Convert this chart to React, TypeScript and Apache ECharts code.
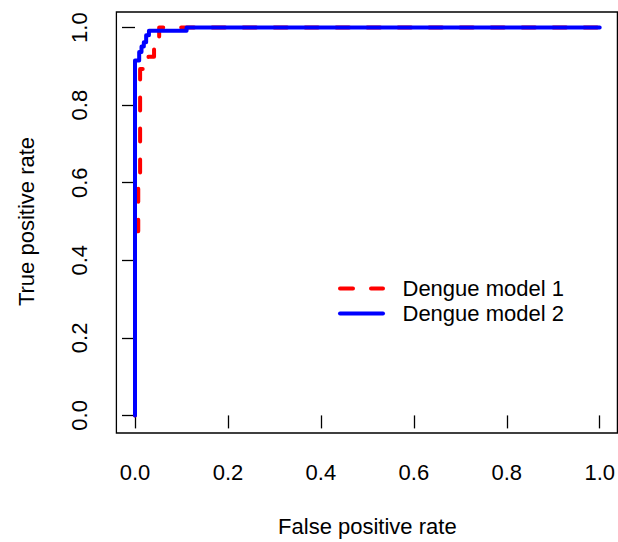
import React, { useEffect, useRef } from "react";
import * as echarts from "echarts";

// ROC curve points (false positive rate, true positive rate)
const fprModel1 = [0, 0, 0.007, 0.007, 0.011, 0.011, 0.029, 0.029, 0.041, 0.041, 0.049, 0.049, 0.052, 0.052, 1.0];
const tprModel1 = [0, 0.475, 0.475, 0.606, 0.606, 0.893, 0.893, 0.925, 0.925, 0.958, 0.958, 0.972, 0.972, 1.0, 1.0];

const fprModel2 = [0, 0, 0.009, 0.009, 0.014, 0.014, 0.019, 0.019, 0.024, 0.024, 0.03, 0.03, 0.111, 0.111, 1.0];
const tprModel2 = [0, 0.915, 0.915, 0.937, 0.937, 0.951, 0.951, 0.962, 0.962, 0.98, 0.98, 0.992, 0.992, 1.0, 1.0];

const seriesNames = ["Dengue model 1", "Dengue model 2"];
const xTitle = "False positive rate";
const yTitle = "True positive rate";

const FONT = "Liberation Sans, Arial, Helvetica, sans-serif";

export default function App() {
  const ref = useRef<HTMLDivElement>(null);
  useEffect(() => {
    if (!ref.current) return;
    const chart = echarts.init(ref.current, null, { renderer: "svg" });
    const d1 = fprModel1.map((x, i) => [x, tprModel1[i]]);
    const d2 = fprModel2.map((x, i) => [x, tprModel2[i]]);
    // plot region: 0..1 maps to 135..600 horizontally, 417.4..27.6 vertically
    const gl = 135, gr = 600, gt = 27.6, gb = 417.4;
    const ux = (gr - gl), uy = (gb - gt);
    const boxL = gl - 0.04 * ux, boxR = gr + 0.04 * ux, boxT = gt - 0.04 * uy, boxB = gb + 0.04 * uy;
    chart.setOption({
      animation: false,
      backgroundColor: "#ffffff",
      textStyle: { fontFamily: FONT },
      grid: { left: gl, top: gt, width: ux, height: uy, containLabel: false },
      xAxis: {
        type: "value",
        min: 0,
        max: 1,
        interval: 0.2,
        offset: boxB - gb,
        axisLine: { show: false },
        splitLine: { show: false },
        axisTick: { show: true, length: 13, lineStyle: { color: "#000", width: 1.3 } },
        axisLabel: {
          fontSize: 22,
          color: "#000",
          fontFamily: FONT,
          margin: 30,
          formatter: (v: number) => v.toFixed(1),
        },
        name: xTitle,
        nameLocation: "middle",
        nameGap: 84,
        nameTextStyle: { fontSize: 22, color: "#000", fontFamily: FONT },
      },
      yAxis: {
        type: "value",
        min: 0,
        max: 1,
        interval: 0.2,
        offset: gl - boxL,
        axisLine: { show: false },
        splitLine: { show: false },
        axisTick: { show: true, length: 13, lineStyle: { color: "#000", width: 1.3 } },
        axisLabel: {
          fontSize: 22,
          color: "#000",
          fontFamily: FONT,
          margin: 26,
          rotate: 90,
          formatter: (v: number) => v.toFixed(1),
        },
        name: yTitle,
        nameLocation: "middle",
        nameGap: 79,
        nameRotate: 90,
        nameTextStyle: { fontSize: 22, color: "#000", fontFamily: FONT },
      },
      series: [
        {
          name: seriesNames[0],
          type: "line",
          data: d1,
          symbol: "none",
          clip: false,
          lineStyle: { color: "#ff0000", width: 4, type: [13, 18], cap: "round", join: "round" },
        },
        {
          name: seriesNames[1],
          type: "line",
          data: d2,
          symbol: "none",
          clip: false,
          lineStyle: { color: "#0000ff", width: 4, cap: "round", join: "round" },
        },
      ],
      graphic: [
        {
          type: "rect",
          shape: { x: boxL, y: boxT, width: Math.min(boxR, 617.4) - boxL, height: boxB - boxT },
          style: { fill: "none", stroke: "#000", lineWidth: 1.3 },
          silent: true,
        },
        {
          type: "line",
          shape: { x1: 340, y1: 288.5, x2: 383, y2: 288.5 },
          style: { stroke: "#ff0000", lineWidth: 4, lineDash: [13, 18], lineCap: "round" },
        },
        {
          type: "line",
          shape: { x1: 340, y1: 313.5, x2: 383, y2: 313.5 },
          style: { stroke: "#0000ff", lineWidth: 4, lineCap: "round" },
        },
        {
          type: "text",
          x: 402.5,
          y: 288.5,
          style: { text: seriesNames[0], fontSize: 22, fontFamily: FONT, fill: "#000", verticalAlign: "middle" },
        },
        {
          type: "text",
          x: 402.5,
          y: 313.5,
          style: { text: seriesNames[1], fontSize: 22, fontFamily: FONT, fill: "#000", verticalAlign: "middle" },
        },
      ],
    });
    return () => chart.dispose();
  }, []);
  return (
    <div
      ref={ref}
      style={{ position: "absolute", left: 0, top: 0, width: 618, height: 542, background: "#fff" }}
    />
  );
}
